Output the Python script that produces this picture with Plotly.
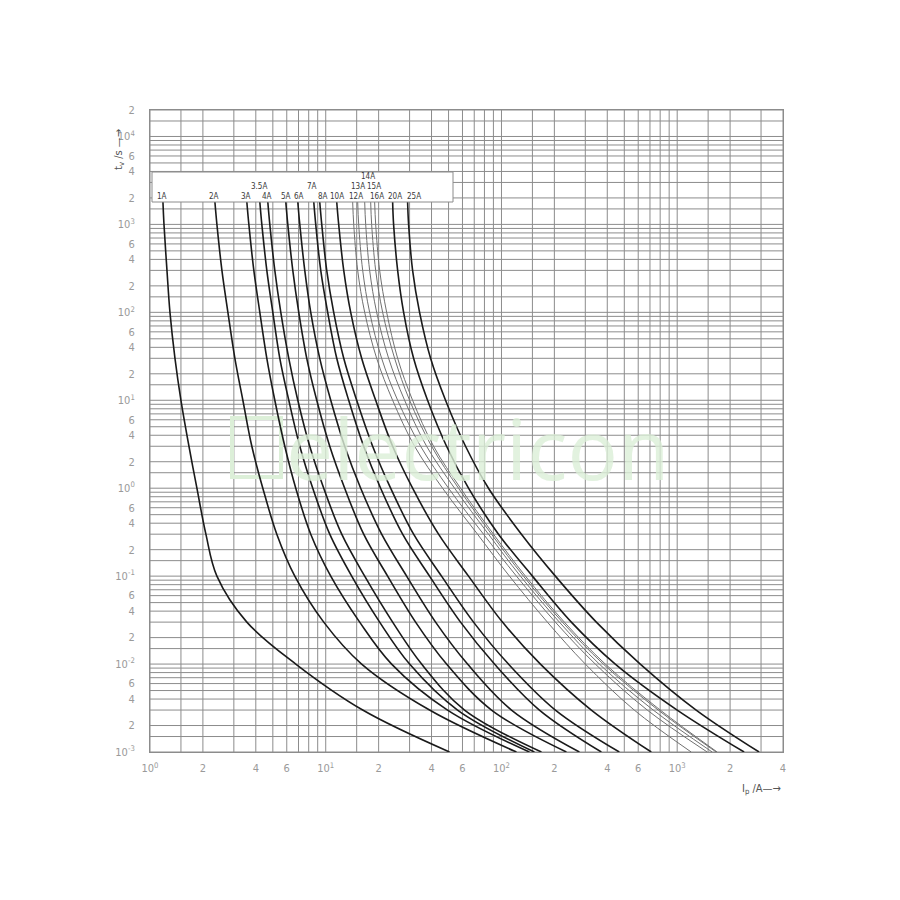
import math
import plotly.graph_objects as go

# Shared time levels (s) at which each curve's current was read
t_levels = [1800, 1000, 300, 100, 30, 10, 3, 1, 0.3, 0.1, 0.03, 0.01, 0.003, 0.001]

# Prospective current (A) for each fuse rating at the time levels above
I_1A = [1.185, 1.201, 1.249, 1.299, 1.387, 1.500, 1.666, 1.849, 2.080, 2.403, 3.557, 6.753, 16.23, 50.63]
I_2A = [2.341, 2.403, 2.566, 2.775, 3.041, 3.376, 3.797, 4.385, 5.267, 6.668, 9.741, 16.01, 38.98, 121.7]
I_3A = [3.557, 3.652, 3.898, 4.217, 4.621, 5.131, 5.848, 6.753, 8.217, 10.68, 15.60, 23.71, 49.33, 144.2]
I_3_5A = [4.217, 4.329, 4.621, 5.000, 5.479, 6.163, 7.118, 8.437, 10.54, 14.05, 20.27, 30.01, 56.23, 154.0]
I_4A = [4.682, 4.806, 5.131, 5.551, 6.163, 6.934, 8.111, 9.741, 12.33, 16.66, 24.03, 35.12, 61.63, 168.8]
I_5A = [5.925, 6.083, 6.494, 7.024, 7.798, 8.889, 10.54, 12.82, 16.44, 22.50, 32.46, 48.70, 87.76, 234.1]
I_6A = [6.934, 7.118, 7.597, 8.217, 9.245, 10.68, 12.82, 15.81, 20.80, 28.86, 42.17, 64.10, 114.0, 277.5]
I_7A = [8.549, 8.773, 9.367, 10.26, 11.55, 13.51, 16.44, 20.53, 27.38, 38.98, 58.48, 91.25, 164.4, 370.1]
I_8A = [9.245, 9.491, 10.13, 11.10, 12.66, 15.00, 18.49, 23.40, 31.62, 45.61, 69.34, 109.6, 202.7, 468.2]
I_10A = [11.55, 11.85, 12.66, 13.87, 16.01, 19.24, 24.03, 31.21, 43.85, 64.94, 101.3, 166.6, 324.6, 711.8]
I_12A = [14.23, 14.43, 15.20, 16.66, 19.49, 24.03, 32.04, 46.21, 73.05, 111.0, 182.5, 300.1, 569.6, 1201]
I_13A = [15.20, 15.40, 16.23, 17.78, 20.80, 25.66, 34.66, 50.00, 79.04, 121.7, 202.7, 342.0, 675.3, 1481]
I_14A = [16.66, 16.88, 17.78, 19.49, 22.80, 28.11, 37.49, 54.08, 84.37, 128.2, 213.6, 360.5, 730.5, 1581]
I_15A = [18.02, 18.25, 19.24, 21.08, 24.66, 30.01, 40.03, 56.96, 87.76, 133.4, 222.2, 379.7, 779.8, 1666]
I_16A = [18.98, 19.24, 20.27, 22.22, 25.66, 31.21, 41.08, 58.48, 90.07, 136.9, 228.0, 389.8, 800.6, 1688]
I_20A = [24.03, 24.33, 25.66, 27.75, 31.62, 37.97, 48.70, 64.94, 96.16, 150.0, 249.8, 444.3, 1000, 2403]
I_25A = [29.24, 29.62, 31.21, 34.20, 39.51, 48.06, 62.45, 84.37, 129.9, 202.7, 346.6, 616.3, 1282, 2924]

ratings = ["1A", "2A", "3A", "3.5A", "4A", "5A", "6A", "7A", "8A", "10A",
           "12A", "13A", "14A", "15A", "16A", "20A", "25A"]
currents = [I_1A, I_2A, I_3A, I_3_5A, I_4A, I_5A, I_6A, I_7A, I_8A, I_10A,
            I_12A, I_13A, I_14A, I_15A, I_16A, I_20A, I_25A]
thin_grey = {"12A", "13A", "14A", "15A", "16A"}

# Label positions inside the header box (screen pixel x, row)
label_x = [162, 214, 246, 259, 267, 286, 299, 312, 323, 337, 356, 358, 368, 374, 377, 395, 414]
label_row = [1, 1, 1, 2, 1, 1, 1, 2, 1, 1, 1, 2, 3, 2, 1, 1, 1]

# Grid multipliers per decade, and which of them carry a tick label
grid_mult = [1, 1.5, 2, 3, 4, 5, 6, 7, 8, 9]
label_mult = {2: "2", 4: "4", 6: "6"}
x_decades = [0, 1, 2, 3]
y_decades = [-3, -2, -1, 0, 1, 2, 3, 4]

X_MIN, X_MAX = 1, 4000
Y_MIN, Y_MAX = 1e-3, 2e4

def grid(decades, vmax):
    gvals, tvals, ttext = [], [], []
    for d in decades:
        for m in grid_mult:
            v = m * 10 ** d
            if v > vmax * 1.0001:
                continue
            gvals.append(v)
            if m == 1:
                tvals.append(v)
                ttext.append("10<sup>%d</sup>" % d)
            elif m in label_mult:
                tvals.append(v)
                ttext.append(label_mult[m])
    return gvals, tvals, ttext

xg, xv, xt = grid(x_decades, X_MAX)
yg, yv, yt = grid(y_decades, Y_MAX)

fig = go.Figure()
for name, cur in zip(ratings, currents):
    grey = name in thin_grey
    fig.add_trace(go.Scatter(
        x=cur, y=t_levels, mode="lines", name=name,
        line=dict(color="#707070" if grey else "#1a1a1a",
                  width=1.0 if grey else 1.6, shape="spline", smoothing=1.0),
        showlegend=False, hoverinfo="name+x+y"))

# Browser body adds an 8px offset; compensate so the plot lands at 150..783 x 110..752
OFF = 8
W, H = 900, 900
L, R, T, B = 150 - OFF, 117 + OFF, 110 - OFF, 148 + OFF
PW, PH = W - L - R, H - T - B
SX0, SY1 = 150, 752  # on-screen plot left / bottom

def px(xp):
    return (xp - SX0) / PW

def py(yp):
    return (SY1 - yp) / PH

grid_col = "#8c8c8c"
shapes = []
for v in xg:
    shapes.append(dict(type="line", xref="x", yref="paper", x0=v, x1=v, y0=0, y1=1,
                       line=dict(color=grid_col, width=1), layer="below"))
for v in yg:
    shapes.append(dict(type="line", xref="paper", yref="y", x0=0, x1=1, y0=v, y1=v,
                       line=dict(color=grid_col, width=1), layer="below"))

tick_font = dict(family="DejaVu Sans Condensed, DejaVu Sans, Arial", size=11, color="#9a9a9a")

fig.update_layout(
    width=W, height=H, margin=dict(l=L, r=R, t=T, b=B),
    paper_bgcolor="white", plot_bgcolor="white",
    shapes=shapes,
    xaxis=dict(type="log", range=[math.log10(X_MIN), math.log10(X_MAX)],
               tickvals=xv, ticktext=xt, showgrid=False,
               showline=True, linecolor=grid_col, linewidth=1, mirror=True,
               zeroline=False, ticks="", tickfont=tick_font, ticklabelstandoff=6),
    yaxis=dict(type="log", range=[math.log10(Y_MIN), math.log10(Y_MAX)],
               tickvals=yv, ticktext=yt, showgrid=False,
               showline=True, linecolor=grid_col, linewidth=1, mirror=True,
               zeroline=False, ticks="", tickfont=tick_font, ticklabelstandoff=12),
)

# Watermark
fig.add_shape(type="rect", xref="paper", yref="paper",
              x0=px(232), x1=px(281), y0=py(477), y1=py(418),
              line=dict(color="#dcefd8", width=4), fillcolor="rgba(0,0,0,0)", layer="below")
fig.add_annotation(text="electricon", xref="paper", yref="paper", x=px(478), y=py(447),
                   xanchor="center", yanchor="middle",
                   showarrow=False, font=dict(family="Open Sans, Arial", size=84, color="#dcefd8"),
                   opacity=0.8)

# Header box for the labels
fig.add_shape(type="rect", xref="paper", yref="paper",
              x0=px(152), x1=px(453), y0=py(202), y1=py(172),
              line=dict(color="#8c8c8c", width=1), fillcolor="white", layer="above")
row_y = {1: 197, 2: 187, 3: 177}
lab_font = dict(family="DejaVu Sans Condensed, DejaVu Sans, Arial", size=8, color="#3a3a3a")
for name, lx, r in zip(ratings, label_x, label_row):
    fig.add_annotation(text=name, xref="paper", yref="paper", x=px(lx), y=py(row_y[r]),
                       xanchor="center", yanchor="middle", borderpad=0,
                       showarrow=False, font=lab_font)

# Axis titles
title_font = dict(family="DejaVu Sans Condensed, DejaVu Sans, Arial", size=11, color="#555")
fig.add_annotation(text="t<sub>v</sub> /s \u2014\u2192", xref="paper", yref="paper",
                   x=px(119), y=py(150), textangle=-90, xanchor="center", yanchor="middle",
                   showarrow=False, font=title_font)
fig.add_annotation(text="I<sub>p</sub> /A\u2014\u2192", xref="paper", yref="paper",
                   x=px(761), y=py(789), xanchor="center", yanchor="middle",
                   showarrow=False, font=title_font)

fig.write_html("out.html")
